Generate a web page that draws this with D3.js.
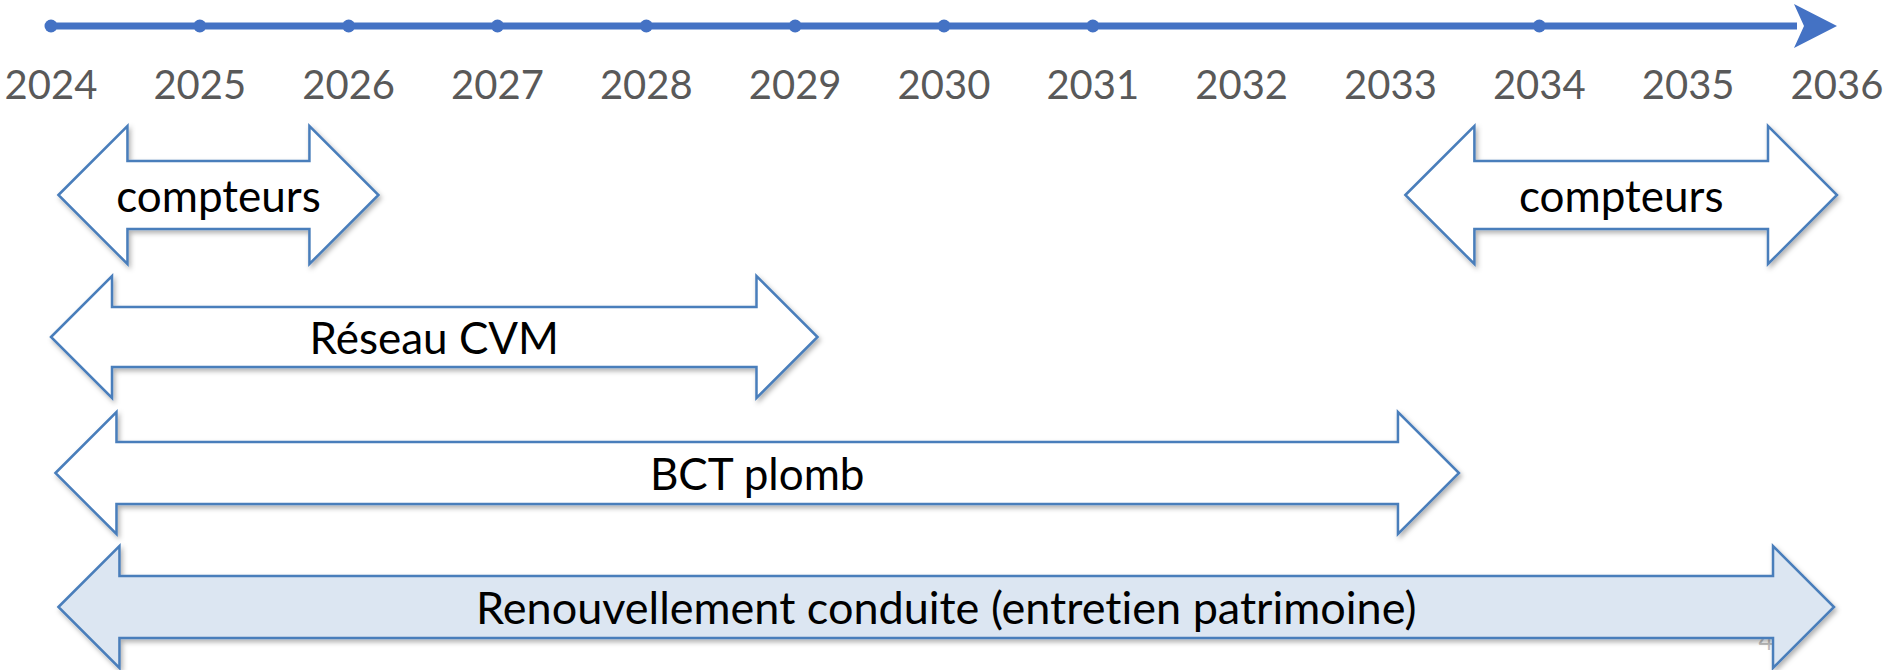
<!DOCTYPE html>
<html>
<head>
<meta charset="utf-8">
<script src="https://cdn.jsdelivr.net/npm/d3@7"></script>
<style>
  html, body { margin: 0; padding: 0; background: #fff; }
  svg { display: block; }
  text { font-variant-ligatures: none; }
</style>
</head>
<body>
<div id="chart"></div>
<script>
// years shown under the timeline
var years = [2024, 2025, 2026, 2027, 2028, 2029, 2030, 2031, 2032, 2033, 2034, 2035, 2036]
// years that carry a dot on the timeline
var dotYears = [2024, 2025, 2026, 2027, 2028, 2029, 2030, 2031, 2034]

// the programmes, one arrow each
var tasks = ["compteurs", "compteurs", "Réseau CVM", "BCT plomb", "Renouvellement conduite (entretien patrimoine)"]
var taskStart = [2024.05, 2033.1, 2024.0, 2024.03, 2024.05]
var taskEnd = [2026.2, 2036.0, 2029.15, 2033.46, 2035.98]
var taskLane = [0, 0, 1, 2, 3]

var width = 1887, height = 670

var svg = d3.select('#chart').append('svg')
    .attr('width', width)
    .attr('height', height)

var defs = svg.append('defs')
var shadow = defs.append('filter').attr('id', 'shadow')
    .attr('x', '-5%').attr('y', '-20%').attr('width', '110%').attr('height', '140%')
shadow.append('feDropShadow')
    .attr('dx', 2).attr('dy', 3)
    .attr('stdDeviation', 2.5)
    .attr('flood-color', '#000')
    .attr('flood-opacity', 0.3)

var x = d3.scaleLinear().domain([2024, 2036]).range([51, 1837])

// lane layout (centre, head half-height, shaft half-height)
var laneY = [195, 337, 473, 607]
var laneHead = [69, 61, 61, 61]
var laneShaft = [34, 30, 31, 31]

// ---------------------------------------------------------------- TIMELINE
var axisY = 26
var tip = x(2036)
svg.append('line')
    .attr('x1', x(2024)).attr('x2', tip - 40)
    .attr('y1', axisY).attr('y2', axisY)
    .attr('stroke', '#4472C4')
    .attr('stroke-width', 7)

svg.append('path')
    .attr('d', 'M' + (tip - 43) + ',' + (axisY - 22) + ' L' + tip + ',' + axisY + ' L' + (tip - 43) + ',' + (axisY + 22) + ' L' + (tip - 33) + ',' + axisY + ' Z')
    .attr('fill', '#4472C4')

svg.selectAll('circle.dot')
    .data(dotYears)
    .enter().append('circle')
    .attr('class', 'dot')
    .attr('cx', function(d) { return x(d) })
    .attr('cy', axisY)
    .attr('r', 6.5)
    .attr('fill', '#4472C4')

svg.selectAll('text.year')
    .data(years)
    .enter().append('text')
    .attr('class', 'year')
    .attr('x', function(d) { return x(d) })
    .attr('y', 99)
    .attr('text-anchor', 'middle')
    .style('font-family', 'Lato, "Open Sans", sans-serif')
    .style('font-size', '40px')
    .style('fill', '#595959')
    .text(function(d) { return d })

// slide number, mostly hidden behind the last arrow
svg.append('text')
    .attr('x', 1766).attr('y', 650)
    .attr('text-anchor', 'middle')
    .style('font-family', 'Lato, sans-serif')
    .style('font-size', '26px')
    .style('fill', '#bfbfbf')
    .text('4')

// ---------------------------------------------------------------- ARROWS
function arrowPath(x0, x1, cy, hh, sh) {
    var hl = hh
    return 'M' + x0 + ',' + cy +
        ' L' + (x0 + hl) + ',' + (cy - hh) +
        ' L' + (x0 + hl) + ',' + (cy - sh) +
        ' L' + (x1 - hl) + ',' + (cy - sh) +
        ' L' + (x1 - hl) + ',' + (cy - hh) +
        ' L' + x1 + ',' + cy +
        ' L' + (x1 - hl) + ',' + (cy + hh) +
        ' L' + (x1 - hl) + ',' + (cy + sh) +
        ' L' + (x0 + hl) + ',' + (cy + sh) +
        ' L' + (x0 + hl) + ',' + (cy + hh) + ' Z'
}

var rows = tasks.map(function(t, i) {
    return { name: t, start: taskStart[i], end: taskEnd[i], lane: taskLane[i], last: i === tasks.length - 1 }
})

var arrows = svg.selectAll('g.task')
    .data(rows)
    .enter().append('g')
    .attr('class', 'task')

arrows.append('path')
    .attr('d', function(d) {
        return arrowPath(x(d.start), x(d.end), laneY[d.lane], laneHead[d.lane], laneShaft[d.lane])
    })
    .attr('fill', function(d) { return d.last ? '#DCE6F2' : '#fff' })
    .attr('stroke', '#4A7EBB')
    .attr('stroke-width', 2.5)
    .attr('stroke-linejoin', 'miter')
    .attr('filter', 'url(#shadow)')

arrows.append('text')
    .attr('x', function(d) { return (x(d.start) + x(d.end)) / 2 })
    .attr('y', function(d) { return laneY[d.lane] + 17 })
    .attr('text-anchor', 'middle')
    .style('font-family', 'Lato, "Open Sans", sans-serif')
    .style('font-size', function(d) { return d.last ? '45px' : '44px' })
    .style('fill', '#000')
    .text(function(d) { return d.name })
</script>
</body>
</html>
